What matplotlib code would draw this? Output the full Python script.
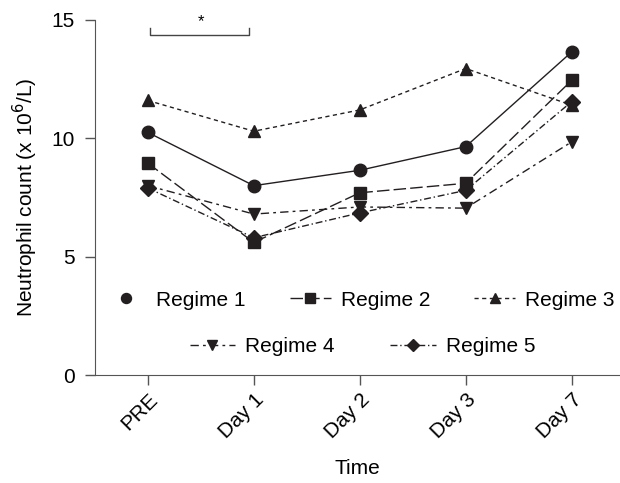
import matplotlib
matplotlib.use('Agg')
import matplotlib.pyplot as plt
from matplotlib.lines import Line2D

plt.rcParams['font.family'] = ['Liberation Sans', 'DejaVu Sans']

# data
days = ['PRE', 'Day 1', 'Day 2', 'Day 3', 'Day 7']
regime1 = [10.25, 8.0, 8.65, 9.65, 13.65]
regime2 = [8.95, 5.6, 7.7, 8.1, 12.45]
regime3 = [11.6, 10.3, 11.2, 12.95, 11.4]
regime4 = [8.0, 6.8, 7.1, 7.05, 9.85]
regime5 = [7.9, 5.8, 6.85, 7.8, 11.55]

ink = '#231f20'
fig = plt.figure(figsize=(6.2, 4.83), dpi=100)
ax = fig.add_axes([0.153, 0.2236, 0.846, 0.735])

x = range(len(days))
l1, = ax.plot(x, regime1, color=ink, marker='o', ms=9, lw=1, linestyle='-', label='Regime 1')
l2, = ax.plot(x, regime2, color=ink, marker='s', ms=9, lw=1, linestyle=(0, (9, 3)), label='Regime 2')
l3, = ax.plot(x, regime3, color=ink, marker='^', ms=9, lw=1, linestyle=(0, (3, 2.5)), label='Regime 3')
l4, = ax.plot(x, regime4, color=ink, marker='v', ms=9, lw=1, linestyle=(0, (6, 3, 2, 3)), label='Regime 4')
l5, = ax.plot(x, regime5, color=ink, marker='D', ms=8, lw=1, linestyle=(0, (5, 2, 1, 2)), label='Regime 5')

# significance bracket PRE vs Day 1
ax.plot([0.02, 0.02, 0.95, 0.95], [14.66, 14.36, 14.36, 14.66], color='#444444', lw=1, clip_on=False)
ax.text(0.5, 14.95, '*', ha='center', va='center', fontsize=12, clip_on=False)

ax.set_xlim(-0.5, 4.45)
ax.set_ylim(0, 15)
ax.set_yticks([0, 5, 10, 15])
ax.set_xticks(list(x))
ax.set_xticklabels(days, rotation=45, ha='right', rotation_mode='anchor', fontsize=15)
ax.tick_params(axis='y', labelsize=15, pad=7)
ax.tick_params(direction='out', length=7.5, width=1, color='#555555')
for s in ['top', 'right']:
    ax.spines[s].set_visible(False)
for s in ['left', 'bottom']:
    ax.spines[s].set_color('#555555')

ax.set_xlabel('Time', fontsize=15, labelpad=12)
ax.set_ylabel('Neutrophil count (x 10$^6$/L)', fontsize=15, labelpad=8)

dot = Line2D([], [], color=ink, marker='o', ms=9, linestyle='none')
leg1 = ax.legend(handles=[dot, l2, l3], labels=['Regime 1', 'Regime 2', 'Regime 3'],
                 loc='center', bbox_to_anchor=(0.505, 0.211), ncol=3, frameon=False, fontsize=15,
                 handlelength=2.0, columnspacing=2.1, handletextpad=0.45, markerscale=0.8)
ax.add_artist(leg1)
ax.legend(handles=[l4, l5], loc='center', bbox_to_anchor=(0.51, 0.079), ncol=2,
          frameon=False, fontsize=15, handlelength=2.2, columnspacing=2.7, handletextpad=0.45,
          markerscale=0.8)

plt.savefig('out.png', dpi=100)
